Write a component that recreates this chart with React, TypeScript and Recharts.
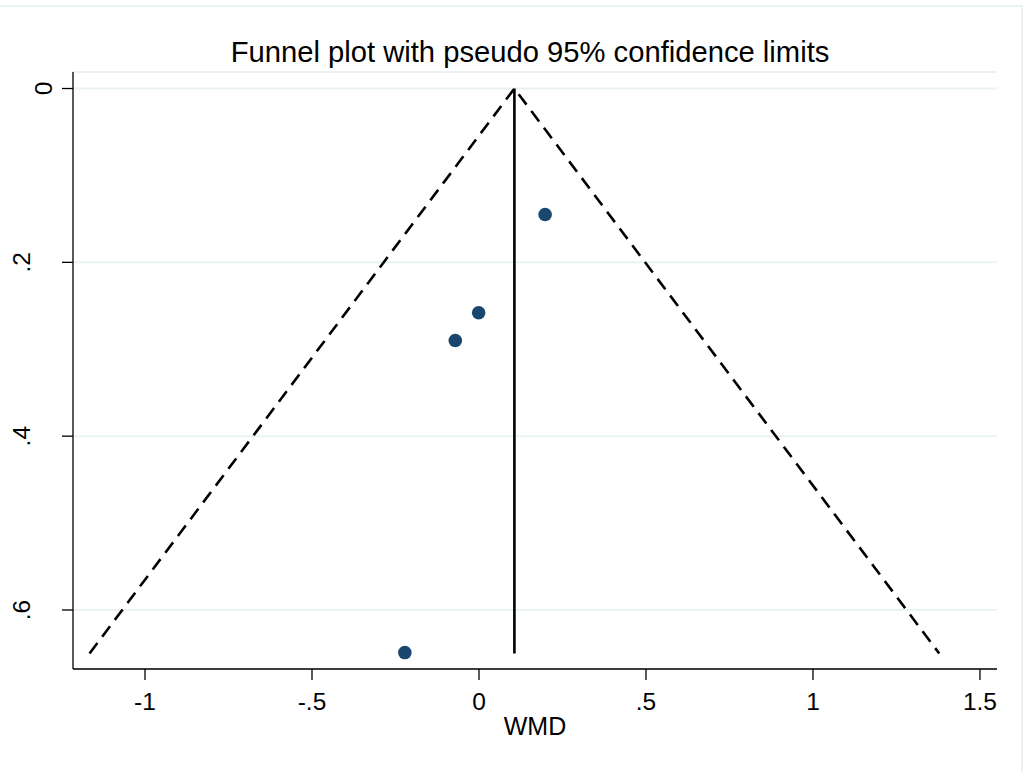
import { ComposedChart, Scatter, XAxis, YAxis, CartesianGrid } from 'recharts';

// funnel limits (pseudo 95%) and pooled estimate
const funnelX = [-1.166, 0.106, 1.378];
const funnelY = [0.65, 0, 0.65];
const effectX = [0.106, 0.106];
const effectY = [0, 0.65];

// individual studies: WMD vs s.e.
const studyX = [0.198, -0.001, -0.071, -0.222];
const studyY = [0.145, 0.258, 0.29, 0.649];

const xTicks = [-1, -0.5, 0, 0.5, 1, 1.5];
const xTickLabels = ['-1', '-.5', '0', '.5', '1', '1.5'];
const yTicks = [0, 0.2, 0.4, 0.6];
const yTickLabels = ['0', '.2', '.4', '.6'];

const FONT = '"Liberation Sans", Arial, sans-serif';

const toPts = (xs: number[], ys: number[]) => xs.map((x, i) => ({ x, y: ys[i] }));

const XTick = (props: any) => {
  const { x, y, payload } = props;
  const i = xTicks.indexOf(payload.value);
  return (
    <text x={x} y={y} dy={30} textAnchor="middle" fontFamily={FONT} fontSize={24.5} fill="#000">
      {i >= 0 ? xTickLabels[i] : payload.value}
    </text>
  );
};

const YTick = (props: any) => {
  const { x, y, payload } = props;
  const i = yTicks.indexOf(payload.value);
  const bx = payload.value === 0 ? x - 10 : x - 32;
  return (
    <text transform={`translate(${bx},${y}) rotate(-90)`} textAnchor="middle" fontFamily={FONT} fontSize={24.5} fill="#000">
      {i >= 0 ? yTickLabels[i] : payload.value}
    </text>
  );
};

const NoShape = () => <g />;

export default function App() {
  return (
    <div style={{ position: 'absolute', left: 0, top: 0, width: 1029, height: 772, background: '#fff' }}>
      <div style={{
        position: 'absolute', left: -4, top: 5, width: 1027, height: 800,
        borderTop: '2px solid #eaf2f3', borderRight: '2px solid #eaf2f3', boxSizing: 'border-box',
      }} />
      <ComposedChart width={1029} height={772} margin={{ top: 72, right: 32, bottom: 43, left: 0 }}>
        <CartesianGrid vertical={false} stroke="#eaf2f3" strokeWidth={2} />
        <XAxis
          type="number" dataKey="x" domain={[-1.2156, 1.551]} ticks={xTicks} allowDataOverflow
          height={60} tickSize={11} tickMargin={0} tick={<XTick />}
          axisLine={{ stroke: '#000', strokeWidth: 1.3 }} tickLine={{ stroke: '#000', strokeWidth: 1.3 }}
        />
        <YAxis
          type="number" dataKey="y" reversed domain={[-0.019, 0.6679]} ticks={yTicks} allowDataOverflow
          width={73} tickSize={11} tickMargin={0} tick={<YTick />}
          axisLine={{ stroke: '#000', strokeWidth: 1.3 }} tickLine={{ stroke: '#000', strokeWidth: 1.3 }}
        />
        <Scatter
          data={toPts(funnelX, funnelY)} shape={<NoShape />} isAnimationActive={false}
          line={{ stroke: '#000', strokeWidth: 2.6, strokeDasharray: '13 8' }}
        />
        <Scatter
          data={toPts(effectX, effectY)} shape={<NoShape />} isAnimationActive={false}
          line={{ stroke: '#000', strokeWidth: 2.6 }}
        />
        <Scatter
          data={toPts(studyX, studyY)} isAnimationActive={false}
          shape={(p: any) => <circle cx={p.cx} cy={p.cy} r={6.8} fill="#1a476f" />}
        />
      </ComposedChart>
      <svg width={1029} height={772} style={{ position: 'absolute', left: 0, top: 0, pointerEvents: 'none' }}>
        <text x={530} y={62} textAnchor="middle" fontFamily={FONT} fontSize={29.2} fill="#000">
          Funnel plot with pseudo 95% confidence limits
        </text>
        <text x={535} y={735} textAnchor="middle" fontFamily={FONT} fontSize={25} fill="#000">
          WMD
        </text>
      </svg>
    </div>
  );
}
